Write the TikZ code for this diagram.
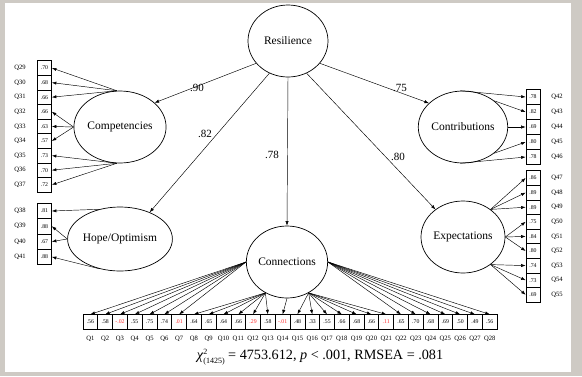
\documentclass[tikz,border=0pt]{standalone}
\usepackage{fontspec}
\setmainfont{Liberation Serif}
\usetikzlibrary{shapes.geometric,arrows.meta}
\definecolor{bgframe}{RGB}{206,202,196}
\definecolor{redval}{RGB}{255,45,45}
\tikzset{
  lat/.style={ellipse, draw, line width=0.7pt, minimum width=80pt, minimum height=72pt, inner sep=0pt, font=\fontsize{11.5}{13}\selectfont},
  ind/.style={draw, line width=0.7pt, minimum width=14.79pt, minimum height=14.6pt, inner sep=0pt, font=\fontsize{5.8}{6}\selectfont},
  qlab/.style={inner sep=0pt, font=\fontsize{6.6}{7}\selectfont},
  ld/.style={-{Latex[length=4.5pt,width=3.2pt]}, line width=0.45pt},
  plab/.style={inner sep=0pt, font=\fontsize{11}{12}\selectfont}
}
\begin{document}
\begin{tikzpicture}[x=1pt,y=-1pt]
\fill[bgframe] (0,0) rectangle (582,376);
\fill[white] (5,3) rectangle (571,372);
\useasboundingbox (0,0) rectangle (582,376);

% latent variables
\node[lat] (res) at (288,41) {Resilience};
\node[lat, minimum width=86pt] (comp) at (120,127) {Competencies};
\node[lat, minimum width=86pt, minimum height=64pt] (hope) at (120,239) {Hope/Optimism};
\node[lat] (conn) at (287,262) {Connections};
\node[lat] (contr) at (463,127) {Contributions};
\node[lat] (exp) at (463,237) {Expectations};

% structural paths
\draw[ld] (res.215) -- (comp.35);
\draw[ld] (res.240) -- (hope.42);
\draw[ld] (res.south) -- (conn.north);
\draw[ld] (res.-35) -- (contr.145);
\draw[ld] (res.-60) -- (exp.135);
\node[plab] (p1) at (197,88) {.90};
\node[plab] (p2) at (205,134) {.82};
\node[plab] (p3) at (272,155) {.78};
\node[plab] (p4) at (400,88) {.75};
\node[plab] (p5) at (398,157) {.80};

% bottom indicators Q1-Q28
\foreach \v/\c [count=\i] in {.56/black,.58/black,-.02/redval,.55/black,.75/black,.74/black,.01/redval,.64/black,.65/black,.64/black,.66/black,.29/redval,.58/black,-.01/redval,.48/black,.33/black,.55/black,.66/black,.68/black,.66/black,.11/redval,.65/black,.70/black,.68/black,.69/black,.50/black,.49/black,.56/black}{
  \node[ind, text=\c] (b\i) at ({83+14.79*(\i-0.5)},322) {\v};
  \node[qlab] (bl\i) at ({83+14.79*(\i-0.5)},339) {Q\i};
}
\foreach \i in {1,...,7} \draw[ld] (conn.180) -- (b\i.north);
\foreach \i in {8,...,13} \draw[ld] (conn.235) -- (b\i.north);
\draw[ld] (conn.270) -- (b14.north);
\foreach \i in {15,...,21} \draw[ld] (conn.305) -- (b\i.north);
\foreach \i in {22,...,28} \draw[ld] (conn.0) -- (b\i.north);

% left indicators Q29-Q37
\foreach \v [count=\k from 0] in {.70,.68,.66,.66,.63,.57,.73,.70,.72}{
  \pgfmathtruncatemacro\q{29+\k}
  \node[ind, minimum width=14pt] (l\q) at (44.5,{68+14.6*\k}) {\v};
  \node[qlab] (ll\q) at (20,{68+14.6*\k}) {Q\q};
}
\foreach \q in {29,30,31} \draw[ld] (comp.95) -- (l\q.east);
\foreach \q in {32,33,34} \draw[ld] (comp.180) -- (l\q.east);
\foreach \q in {35,36,37} \draw[ld] (comp.265) -- (l\q.east);

% left indicators Q38-Q41
\foreach \v [count=\k from 0] in {.81,.88,.67,.88}{
  \pgfmathtruncatemacro\q{38+\k}
  \node[ind, minimum width=14pt, minimum height=15.3pt] (l\q) at (44.5,{211+15.3*\k}) {\v};
  \node[qlab] (ll\q) at (20,{211+15.3*\k}) {Q\q};
}
\draw[ld] (hope.125) -- (l38.east);
\draw[ld] (hope.180) -- (l39.east);
\draw[ld] (hope.180) -- (l40.east);
\draw[ld] (hope.235) -- (l41.east);

% right indicators Q42-Q46
\foreach \v [count=\k from 0] in {.78,.82,.69,.80,.78}{
  \pgfmathtruncatemacro\q{42+\k}
  \node[ind, minimum width=14pt, minimum height=15pt] (r\q) at (533,{97+15*\k}) {\v};
  \node[qlab] (rl\q) at (557,{97+15*\k}) {Q\q};
}
\draw[ld] (contr.95) -- (r42.west);
\draw[ld] (contr.40) -- (r43.west);
\draw[ld] (contr.0) -- (r44.west);
\draw[ld] (contr.-40) -- (r45.west);
\draw[ld] (contr.-95) -- (r46.west);

% right indicators Q47-Q55
\foreach \v [count=\k from 0] in {.86,.89,.89,.75,.84,.80,.74,.73,.69}{
  \pgfmathtruncatemacro\q{47+\k}
  \node[ind, minimum width=14pt] (r\q) at (533,{178+14.6*\k}) {\v};
  \node[qlab] (rl\q) at (557,{178+14.6*\k}) {Q\q};
}
\foreach \q in {47,48,49} \draw[ld] (exp.45) -- (r\q.west);
\foreach \q in {50,51,52} \draw[ld] (exp.0) -- (r\q.west);
\foreach \q in {53,54,55} \draw[ld] (exp.-45) -- (r\q.west);

% fit statistics
\node[inner sep=0pt, font=\fontsize{14.2}{16}\selectfont] (fit) at (320,357)
  {\textit{χ}\raisebox{-4pt}{\fontsize{8}{9.5}\selectfont\shortstack[l]{2\\(1425)}} = 4753.612, \textit{p} < .001, RMSEA = .081};
\end{tikzpicture}
\end{document}
